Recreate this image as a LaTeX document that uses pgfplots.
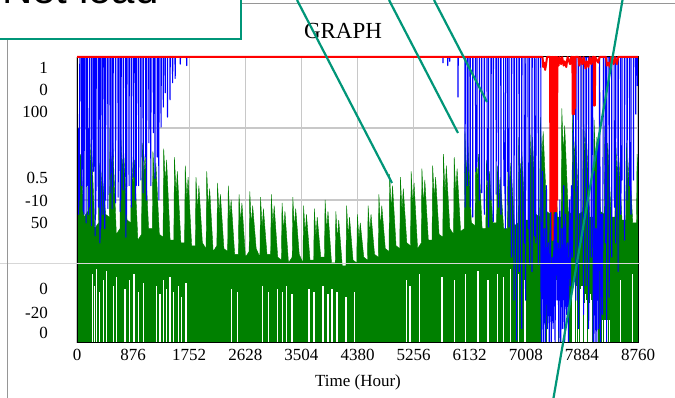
\documentclass[border=0pt]{standalone}
\usepackage{pgfplots}
\pgfplotsset{compat=1.18}
\usepackage{fontspec}
\setmainfont{Liberation Serif}
\newfontfamily\arialfont{Liberation Sans}
\definecolor{tealc}{RGB}{0,150,120}
\definecolor{gridc}{RGB}{200,200,200}
\definecolor{gr}{RGB}{0,128,0}
\definecolor{slide}{RGB}{150,150,150}
\definecolor{slidelight}{RGB}{215,215,215}

\begin{document}
\begin{tikzpicture}[x=1pt,y=1pt]
\useasboundingbox (0,0) rectangle (675,398);
\fill[white] (0,0) rectangle (675,398);

\pgfplotsset{every axis/.append style={scale only axis, width=561pt, height=286pt,
  at={(77pt,55pt)}, anchor=south west, xmin=0, xmax=8760,
  major tick length=0pt, /pgf/number format/assume math mode=true}}

% ---------- green series (scale 0..100) ----------
\begin{axis}[ymin=0, ymax=100, axis line style={draw=none},
  xtick={0,876,1752,2628,3504,4380,5256,6132,7008,7884,8760},
  xticklabels={0,876,1752,2628,3504,4380,5256,6132,7008,7884,8760},
  xticklabel style={font=\fontsize{17}{20}\selectfont, yshift=-3pt},
  ytick={50,75.17}, yticklabels={},
  xmajorgrids, ymajorgrids, major grid style={gridc, line width=1.2pt}]
\addplot[draw=gr, line width=0.4pt, fill=gr, no markers] coordinates {
(0,42)(10,70)(35,58)(55,66)(110,44)
(168,46)(178,75)(203,62)(223,72)(278,40)
(336,42)(346,63)(371,52)(391,60)(446,45)
(504,44)(514,75)(539,60)(559,70)(614,38)
(672,40)(682,74)(707,60)(727,68)(782,43)
(840,42)(850,68)(875,55)(895,64)(950,36)
(1008,38)(1018,70)(1043,58)(1063,66)(1118,40)
(1176,40)(1186,67)(1211,56)(1231,63)(1286,38)
(1344,37)(1354,68)(1379,56)(1399,64)(1454,36)
(1512,36)(1522,65)(1547,52)(1567,60)(1622,35)
(1680,35)(1690,62)(1715,50)(1735,58)(1790,34)
(1848,34)(1858,58)(1883,46)(1903,55)(1958,35)
(2016,33)(2026,60)(2051,47)(2071,54)(2126,32)
(2184,34)(2194,56)(2219,45)(2239,52)(2294,33)
(2352,32)(2362,55)(2387,44)(2407,50)(2462,31)
(2520,31)(2530,52)(2555,42)(2575,49)(2630,30)
(2688,32)(2698,53)(2723,41)(2743,48)(2798,33)
(2856,30)(2866,51)(2891,40)(2911,47)(2966,31)
(3024,31)(3034,52)(3059,41)(3079,48)(3134,30)
(3192,29)(3202,49)(3227,39)(3247,46)(3302,28)
(3360,30)(3370,51)(3395,40)(3415,47)(3470,31)
(3528,28)(3538,48)(3563,38)(3583,45)(3638,29)
(3696,29)(3706,47)(3731,37)(3751,44)(3806,30)
(3864,30)(3874,50)(3899,39)(3919,46)(3974,28)
(4032,28)(4042,46)(4067,36)(4087,43)(4142,27)
(4200,27)(4210,48)(4235,37)(4255,44)(4310,29)
(4368,28)(4378,45)(4403,36)(4423,42)(4478,30)
(4536,29)(4546,48)(4571,38)(4591,45)(4646,31)
(4704,30)(4714,52)(4739,40)(4759,48)(4814,33)
(4872,32)(4882,59)(4907,46)(4927,55)(4982,34)
(5040,33)(5050,58)(5075,46)(5095,54)(5150,35)
(5208,34)(5218,60)(5243,48)(5263,56)(5318,33)
(5376,35)(5386,61)(5411,48)(5431,57)(5486,36)
(5544,36)(5554,62)(5579,50)(5599,58)(5654,38)
(5712,37)(5722,66)(5747,52)(5767,62)(5822,40)
(5880,38)(5890,65)(5915,52)(5935,61)(5990,39)
(6048,40)(6058,74)(6083,58)(6103,70)(6158,42)
(6216,41)(6226,72)(6251,56)(6271,66)(6326,40)
(6384,40)(6394,64)(6419,52)(6439,60)(6494,42)
(6552,42)(6562,62)(6587,50)(6607,58)(6662,40)
(6720,40)(6730,68)(6755,54)(6775,63)(6830,41)
(6888,42)(6898,72)(6923,58)(6943,68)(6998,43)
(7056,43)(7066,78)(7091,62)(7111,72)(7166,45)
(7224,44)(7234,79)(7259,64)(7279,74)(7334,46)
(7392,45)(7402,80)(7427,64)(7447,74)(7502,44)
(7560,44)(7570,82)(7595,66)(7615,76)(7670,46)
(7728,45)(7738,80)(7763,64)(7783,74)(7838,45)
(7896,46)(7906,81)(7931,66)(7951,75)(8006,44)
(8064,44)(8074,78)(8099,62)(8119,72)(8174,46)
(8232,45)(8242,76)(8267,60)(8287,70)(8342,44)
(8400,44)(8410,72)(8435,58)(8455,67)(8510,43)
(8568,43)(8578,70)(8603,56)(8623,65)(8678,42)
(8736,42)(8746,66)(8760,60)
} \closedcycle;
% hours where the green series stays above zero (white gaps at the bottom)
\addplot[ycomb, white, line width=1.1pt, no markers] coordinates {
(239,24)(270,20)(307,26)(348,18)(411,22)(464,25)(567,20)(620,23)(750,19)(818,22)
(890,24)(958,18)(1036,21)(1244,20)(1296,17)(1347,22)(1399,19)(1452,23)(1504,18)
(1582,20)(1634,16)(1702,21)(2415,19)(2513,18)(2903,20)(2997,18)(3137,19)(3215,18)
(3278,20)(3357,17)(3622,19)(3700,18)(3841,20)(3919,17)(3981,19)(4060,18)(4200,16)
(4340,18)(5150,22)(5200,20)(5355,24)(5700,23)(5900,22)(6060,24)(6262,25)(6418,22)
(6560,24)(6653,23)(6762,26)(6900,24)(6995,22)(7277,23)(7300,23)(7320,23)(7340,22)
(7360,23)(7380,23)(7400,22)(7420,23)(7440,21)(7460,23)(7480,22)(7500,23)(7540,15)
(7560,15)(7580,14)(7600,15)(7620,15)(7640,14)(7660,15)(7745,20)(7770,22)(7800,20)
(7830,21)(7860,19)(7885,20)(7900,16)(7920,14)(7940,17)(7960,15)(7980,16)(8000,14)
(8020,17)(8040,15)(8060,16)(8080,14)(8100,16)(8120,17)(8210,8)(8230,8)(8250,8)
(8270,8)(8290,8)(8310,8)(8480,22)(8680,24)
};
\end{axis}

% ---------- blue series (scale -20..0) ----------
\begin{axis}[ymin=-20, ymax=0, axis on top, xtick=\empty, ytick=\empty,
  axis line style={black, line width=1pt}]
\addplot[blue, line width=1.1pt, line join=round, no markers] coordinates {
(0,0)(3,-8)(8,-4)(14,-10.5)(20,-6)(26,-11)(32,-5)(38,-10)(44,0)
(70,0)(73,-9)(76,0)
(95,0)(98,-10.8)(104,-6)(110,-11)(116,0)
(140,0)(143,-11.6)(146,0)
(165,0)(168,-9)(174,-5)(180,-11)(186,-7)(192,-10.5)(198,0)
(225,0)(228,-11.8)(231,0)
(255,0)(258,-8)(262,0)
(280,0)(283,-12.5)(289,-7)(295,-11)(301,0)
(330,0)(333,-10.5)(336,0)
(355,0)(358,-13)(364,-8)(370,-12)(376,0)
(400,0)(403,-11)(406,0)
(430,0)(433,-12)(439,-6)(445,-10)(451,0)
(480,0)(483,-10.6)(486,0)
(515,0)(518,-9.5)(521,0)
(545,0)(548,-10.6)(554,-5)(560,-9)(566,0)
(600,0)(603,-10.2)(606,0)
(640,0)(643,-9.8)(646,0)
(670,0)(673,-10.8)(679,-6)(685,-10)(691,0)
(720,0)(723,-9.3)(726,0)
(760,0)(763,-12.6)(769,-8)(775,-11)(781,0)
(810,0)(813,-9)(816,0)
(845,0)(848,-10.5)(851,0)
(880,0)(883,-8.4)(886,0)
(910,0)(913,-10)(919,-6)(925,-9)(931,0)
(960,0)(963,-9)(966,0)
(995,0)(998,-8.6)(1001,0)
(1030,0)(1033,-9.5)(1036,0)
(1070,0)(1073,-7)(1079,-4)(1085,-10)(1091,0)
(1120,0)(1123,-6)(1126,0)
(1150,0)(1153,-9)(1156,0)
(1190,0)(1193,-5.3)(1196,0)
(1215,0)(1218,-8.5)(1221,0)
(1250,0)(1253,-7)(1256,0)
(1275,0)(1278,-10)(1281,0)
(1310,0)(1313,-4.9)(1316,0)
(1345,0)(1348,-3.5)(1351,0)
(1375,0)(1378,-2.5)(1381,0)
(1410,0)(1413,-4.2)(1416,0)
(1450,0)(1453,-3)(1456,0)
(1490,0)(1493,-1.8)(1496,0)
(1530,0)(1533,-1.5)(1536,0)
(1610,0)(1613,-0.5)(1616,0)
(1710,0)(1713,-0.6)(1716,0)
(5712,0)(5715,-0.4)(5718,0)
(5787,0)(5790,-0.6)(5793,0)
(5817,0)(5820,-0.3)(5823,0)
(5947,0)(5950,-2.8)(5953,0)
(6057,0)(6060,-10.5)(6063,0)
(6092,0)(6095,-9)(6100,-5)(6105,-8)(6108,0)
(6137,0)(6140,-10.5)(6143,0)
(6177,0)(6180,-11.2)(6183,0)
(6222,0)(6225,-8)(6230,-4)(6245,-7.7)(6248,0)
(6282,0)(6285,-10)(6288,0)
(6317,0)(6320,-9.5)(6323,0)
(6357,0)(6360,-11)(6363,0)
(6402,0)(6405,-8.6)(6412,-5)(6425,-11.9)(6428,0)
(6462,0)(6465,-10)(6468,0)
(6497,0)(6500,-11.5)(6503,0)
(6542,0)(6545,-9.6)(6548,0)
(6577,0)(6580,-10.5)(6583,0)
(6617,0)(6620,-11)(6623,0)
(6662,0)(6665,-9)(6675,-6)(6690,-12)(6693,0)
(6722,0)(6725,-8)(6735,-5)(6745,-11.9)(6748,0)
(6782,0)(6785,-14)(6788,0)
(6822,0)(6825,-17)(6828,0)
(6862,0)(6865,-19.8)(6868,0)
(6902,0)(6905,-15)(6908,0)
(6942,0)(6945,-19)(6948,0)
(6982,0)(6985,-13)(6995,-9)(7005,-17)(7008,0)
(7042,0)(7045,-12)(7055,-8)(7065,-14.5)(7068,0)
(7102,0)(7105,-15)(7108,0)
(7142,0)(7145,-12.5)(7155,-9)(7165,-13)(7168,0)
(7202,0)(7205,-14.5)(7208,0)
(7242,0)(7245,-16)(7255,-20)(7270,-8)(7285,-20)(7300,-12)(7315,-20)(7330,-9)
(7345,-19)(7360,-13)(7375,-20)(7390,-10)(7405,-20)(7420,-14)(7435,-19)(7450,-11)
(7465,-20)(7480,-8)(7495,-17)(7510,-13)(7525,-20)(7540,-10)(7555,-20)(7570,-12)
(7585,-19)(7600,-9)(7615,-20)(7630,-11)(7645,-18)(7660,-13)(7675,-20)(7690,-10)
(7705,-16)(7720,-9)(7735,-14)(7750,-5)(7760,0)
(7787,0)(7790,-17)(7793,0)
(7827,0)(7830,-19)(7833,0)
(7867,0)(7870,-13)(7873,0)
(7907,0)(7910,-18)(7913,0)
(7947,0)(7950,-16)(7953,0)
(7987,0)(7990,-19)(7993,0)
(8027,0)(8030,-14)(8033,0)
(8050,0)(8062,-20)(8076,-8)(8090,-20)(8104,-12)(8118,-20)(8132,-6)(8146,-19)
(8160,0)(8175,-20)(8190,-11)(8205,-18)(8220,0)
(8247,0)(8250,-13)(8253,0)
(8267,0)(8270,-20)(8273,0)
(8307,0)(8310,-16.8)(8313,0)
(8347,0)(8350,-14)(8353,0)
(8387,0)(8390,-10.5)(8400,-6)(8410,-13)(8413,0)
(8447,0)(8450,-15)(8453,0)
(8487,0)(8490,-11)(8500,-7)(8510,-8.6)(8513,0)
(8547,0)(8550,-12.8)(8553,0)
(8587,0)(8590,-10)(8593,0)
(8627,0)(8630,-9)(8640,-6)(8650,-11)(8653,0)
(8687,0)(8690,-8.6)(8693,0)
(8722,0)(8725,-4)(8728,0)
(8747,0)(8750,-2)(8753,0)(8760,0)
};
\end{axis}

% ---------- red series (scale 0..1) ----------
\begin{axis}[ymin=0, ymax=1, clip=false, axis line style={draw=none},
  xtick=\empty, ytick=\empty]
\addplot[red, line width=2pt, line join=round, no markers] coordinates {
(0,1)(7270,1)(7280,0.965)(7295,0.98)(7310,0.955)(7325,0.975)(7340,1)(7388,1)
(7392,0.46)(7398,1)(7404,0.47)(7410,1)(7416,0.46)(7422,1)(7426,0.36)(7430,1)
(7436,0.46)(7442,1)(7448,0.47)(7454,1)(7460,0.46)(7466,1)(7472,0.48)(7478,1)
(7484,0.46)(7490,1)(7496,0.5)(7500,1)(7520,0.97)(7535,1)(7560,0.975)(7575,1)
(7600,0.97)(7615,0.985)(7640,0.965)(7660,1)(7700,0.975)(7715,1)(7736,1)
(7740,0.80)(7746,1)(7752,0.81)(7758,1)(7764,0.80)(7770,1)(7776,0.82)(7782,1)
(7830,1)(7845,0.97)(7860,1)(7890,0.975)(7910,1)(7940,0.96)(7960,0.985)
(7985,0.965)(8005,1)(8030,0.975)(8050,1)(8070,1)(8074,0.83)(8080,1)(8086,0.83)
(8092,1)(8140,0.98)(8160,1)(8260,1)(8275,0.97)(8300,0.98)(8320,0.965)(8340,1)
(8380,0.975)(8400,1)(8430,0.975)(8450,1)(8760,1)
};
\end{axis}

% ---------- stacked y-axis labels ----------
\begin{scope}[every node/.style={anchor=base east, inner sep=0pt, font=\fontsize{17}{20}\selectfont}]
\node at (48,324) {1};
\node at (48,302) {0};
\node at (48,280.5) {100};
\node at (48,214.5) {0.5};
\node at (48,191) {-10};
\node at (48,169.5) {50};
\node at (48,103) {0};
\node at (48,79.5) {-20};
\node at (48,59) {0};
\end{scope}

\node[anchor=base, inner sep=0pt, font=\fontsize{23}{26}\selectfont] at (343,359.7) {GRAPH};
\node[anchor=center, inner sep=0pt, font=\fontsize{17}{20}\selectfont] at (358,16) {Time (Hour)};

% ---------- slide elements ----------
\draw[slidelight, line width=1pt] (0,134) -- (640,134);
\draw[slide, line width=0.8pt] (7,358) -- (7,0);
\draw[slide, line width=0.8pt] (241,395) -- (675,395);
\node[anchor=base west, inner sep=0pt, font=\arialfont\fontsize{42}{46}\selectfont] at (2,394) {Net load};
\draw[tealc, line width=2.2pt] (-10,359) -- (241,359) -- (241,410);
\draw[tealc, line width=2.2pt] (297,398) -- (392,215);
\draw[tealc, line width=2.2pt] (389,398) -- (458,265);
\draw[tealc, line width=2.2pt] (434,398) -- (487,296);
\draw[tealc, line width=2.2pt] (622.5,398) -- (553.5,0);
\end{tikzpicture}
\end{document}
